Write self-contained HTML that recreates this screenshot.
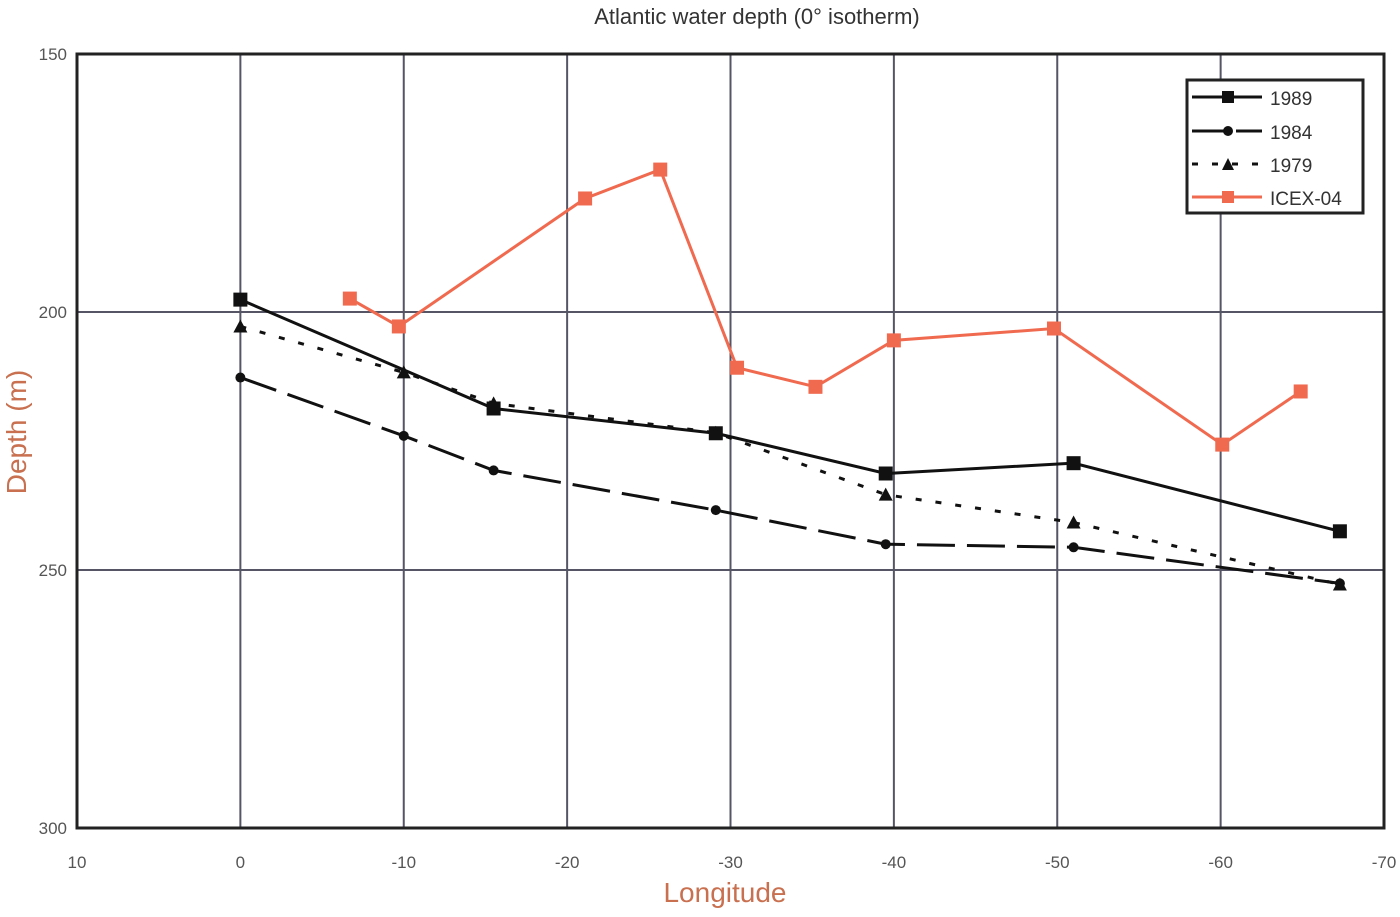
<!DOCTYPE html>
<html><head><meta charset="utf-8"><style>
body{margin:0;background:#fff}
svg text{font-family:"Liberation Sans",sans-serif}
</style></head><body>
<svg id="chart" width="1400" height="912" xmlns="http://www.w3.org/2000/svg">
<text x="757" y="24" text-anchor="middle" font-size="22" fill="#333">Atlantic water depth (0° isotherm)</text>
<g id="grid"></g><g id="series"></g>
<text x="725" y="902" text-anchor="middle" font-size="28" fill="#c8704f">Longitude</text>
<text transform="translate(26,432) rotate(-90)" text-anchor="middle" font-size="28" fill="#c8704f">Depth (m)</text>
<g>
<rect x="1187" y="80" width="176" height="133" fill="#fff" stroke="#222" stroke-width="3"/>
<g><line x1="1192" y1="97" x2="1262" y2="97" stroke="#111" stroke-width="3"/><rect x="1222" y="91" width="12" height="12" fill="#111"/><text x="1270" y="105" font-size="19" fill="#333">1989</text></g>
<g><line x1="1192" y1="131" x2="1262" y2="131" stroke="#111" stroke-width="3" stroke-dasharray="38,6"/><circle cx="1228" cy="131" r="5" fill="#111"/><text x="1270" y="139" font-size="19" fill="#333">1984</text></g>
<g><line x1="1192" y1="164" x2="1262" y2="164" stroke="#111" stroke-width="3" stroke-dasharray="6,14"/><path d="M1222,170 L1228,158 L1234,170Z" fill="#111"/><text x="1270" y="172" font-size="19" fill="#333">1979</text></g>
<g><line x1="1192" y1="197" x2="1262" y2="197" stroke="#f06a50" stroke-width="3"/><rect x="1222" y="191" width="12" height="12" fill="#f06a50"/><text x="1270" y="205" font-size="19" fill="#333">ICEX-04</text></g>
</g>
</svg>
<script>
const xTicks=[10,0,-10,-20,-30,-40,-50,-60,-70];
const yTicks=[150,200,250,300];
const lon1989=[0,-15.5,-29.1,-39.5,-51,-67.3];
const dep1989=[197.6,218.7,223.5,231.3,229.3,242.5];
const lon1984=[0,-10,-15.5,-29.1,-39.5,-51,-67.3];
const dep1984=[212.7,224,230.7,238.4,245,245.6,252.6];
const lon1979=[0,-10,-15.5,-29.1,-39.5,-51,-67.3];
const dep1979=[202.8,211.7,217.7,223.4,235.4,240.8,252.8];
const lonIcex=[-6.7,-9.7,-21.1,-25.7,-30.4,-35.2,-40,-49.8,-60.1,-64.9];
const depIcex=[197.4,202.8,178,172.4,210.8,214.5,205.5,203.2,225.7,215.4];
const L=77,R=1384,T=54,B=828;
const xs=v=>L+(10-v)/80*(R-L);
const ys=v=>T+(v-150)/150*(B-T);
const NS="http://www.w3.org/2000/svg";
function mk(p,tag,a){const e=document.createElementNS(NS,tag);for(const k in a)e.setAttribute(k,a[k]);p.appendChild(e);return e;}
const g=document.getElementById('grid');
xTicks.forEach(t=>{
 const l=mk(g,'line',{x1:xs(t),x2:xs(t),y1:T,y2:B,stroke:'#556',"stroke-width":2});
 
 
 const tx=mk(g,'text',{x:xs(t),y:B+40,"text-anchor":"middle","font-size":17,fill:"#555"});tx.textContent=t;
 
 
});
yTicks.forEach(t=>{
 const l=mk(g,'line',{x1:L,x2:R,y1:ys(t),y2:ys(t),stroke:'#556',"stroke-width":2});
 
 
 const tx=mk(g,'text',{x:L-10,y:ys(t)+6,"text-anchor":"end","font-size":17,fill:"#555"});tx.textContent=t;
 
 
});
const fr=mk(g,'rect',{x:L,y:T,width:R-L,height:B-T,fill:'none',stroke:'#222',"stroke-width":3});


const s=document.getElementById('series');
function series(name,lon,dep,color,dash,marker){
 const grp=mk(s,'g',{});
 
 
 mk(grp,'polyline',{points:lon.map((v,i)=>xs(v)+','+ys(dep[i])).join(' '),fill:'none',stroke:color,"stroke-width":3,"stroke-dasharray":dash});
 lon.forEach((v,i)=>{
  const x=xs(v),y=ys(dep[i]);let m;
  if(marker==='sq')m=mk(grp,'rect',{x:x-7,y:y-7,width:14,height:14,fill:color});
  else if(marker==='c')m=mk(grp,'circle',{cx:x,cy:y,r:5,fill:color});
  else m=mk(grp,'path',{d:`M${x-7},${y+6}L${x},${y-7}L${x+7},${y+6}Z`,fill:color});
  
  
 });
}
series('series-1979',lon1979,dep1979,'#111','6,14','t');
series('series-1984',lon1984,dep1984,'#111','38,12','c');
series('series-1989',lon1989,dep1989,'#111','none','sq');
series('series-icex-04',lonIcex,depIcex,'#f06a50','none','sq');
</script>
</body></html>
